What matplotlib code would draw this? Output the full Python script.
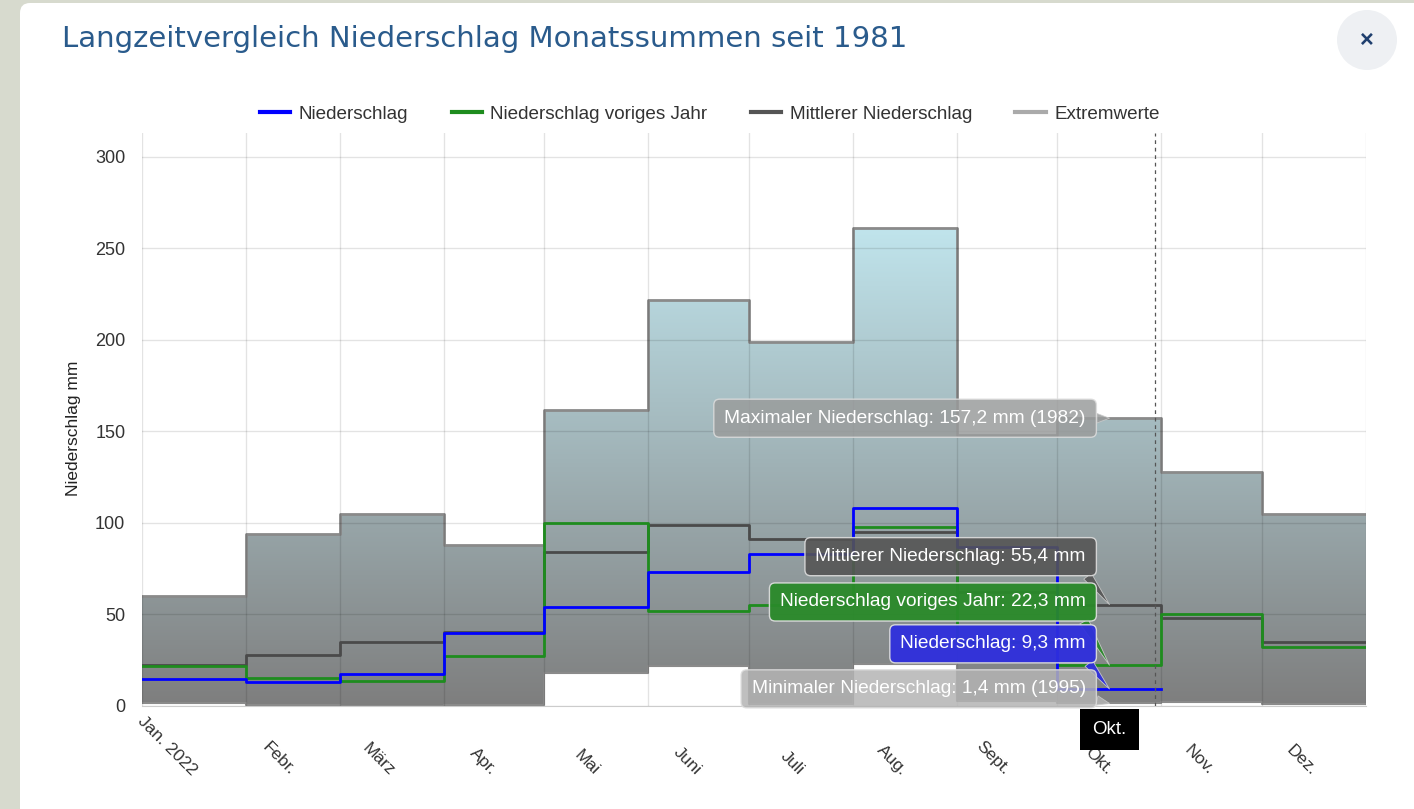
import numpy as np
import pandas as pd
import matplotlib
matplotlib.use('Agg')
import matplotlib.pyplot as plt
import matplotlib.dates as mdates
from matplotlib.patches import FancyBboxPatch, Ellipse
from matplotlib.colors import LinearSegmentedColormap

plt.rcParams['font.family'] = ['Liberation Sans', 'DejaVu Sans']

monate = ['Jan. 2022', 'Febr.', 'März', 'Apr.', 'Mai', 'Juni', 'Juli', 'Aug.',
          'Sept.', 'Okt.', 'Nov.', 'Dez.']
niederschlag = [15, 13, 17.5, 40, 54, 73, 83, 108, 87, 9.3]
voriges_jahr = [22, 15.5, 13.5, 27.5, 100, 52, 55, 98, 35, 22.3, 50, 32]
mittel = [22.5, 28, 34.7, 40.5, 84, 99, 91, 95, 62, 55.4, 48, 34.7]
maximum = [60, 94, 105, 88, 161.5, 222, 199, 261, 148, 157.2, 128, 105]
minimum = [1.5, 0.5, 0.2, 0.3, 18, 22, 1, 23, 3, 1.4, 2, 1]
heute = '2022-10-30'

grenzen = pd.date_range('2022-01-01', periods=13, freq='MS')
x = mdates.date2num(grenzen)
mitten = (x[:-1] + x[1:]) / 2


def stufen(werte):
    n = len(werte)
    return x[:n + 1], list(werte) + [werte[-1]]


fig = plt.figure(figsize=(14.14, 8.09), dpi=100, facecolor='#d7dace')
fig.patches.append(FancyBboxPatch((20, -30), 1500, 806 + 30, boxstyle='round,pad=0,rounding_size=10',
                                  transform=None, fc='white', ec='none', zorder=-10))
fig.patches.append(Ellipse((1367 / 1414, 1 - 40 / 809), 60 / 1414, 60 / 809, transform=fig.transFigure,
                           fc='#eef0f3', ec='none', zorder=-5))
fig.text(1367 / 1414, 1 - 40 / 809, '×', ha='center', va='center', fontsize=17,
         fontweight='bold', color='#1f3f6e')
fig.text(62 / 1414, 1 - 39 / 809, 'Langzeitvergleich Niederschlag Monatssummen seit 1981',
         fontsize=21, color='#2a5b8c', va='center', family=['DejaVu Sans'])

ax = fig.add_axes([142 / 1414, 1 - 706 / 809, 1224 / 1414, 573 / 809])
ax.set_facecolor('none')

# Extremwerte als Flaeche mit Farbverlauf
xs, lo = stufen(minimum)
_, hi = stufen(maximum)
flaeche = ax.fill_between(xs, lo, hi, step='post', fc='none', ec='none')
cmap = LinearSegmentedColormap.from_list('verlauf', ['#7e7e7e', '#c1e6ee'])
bild = ax.imshow(np.linspace(0, 1, 256).reshape(-1, 1), extent=[x[0], x[-1], 0, 265],
                 origin='lower', aspect='auto', cmap=cmap, zorder=1)
bild.set_clip_path(flaeche.get_paths()[0], transform=ax.transData)
ax.step(xs, hi, where='post', color='#8a8a8a', lw=2, zorder=2)
ax.step(xs, lo, where='post', color='#8a8a8a', lw=1.5, zorder=2)

xs, ys = stufen(mittel)
ax.step(xs, ys, where='post', color='#4a4a4a', lw=2, zorder=3)
xs, ys = stufen(voriges_jahr)
ax.step(xs, ys, where='post', color='#1e8c1e', lw=2, zorder=4)
xs, ys = stufen(niederschlag)
ax.step(xs, ys, where='post', color='#0000ff', lw=2, zorder=5)

ax.axvline(mdates.datestr2num(heute), color='#555555', lw=0.9, ls=(0, (3, 3)), zorder=6)

ax.set_xlim(x[0], x[-1])
ax.set_ylim(0, 313)
ax.set_yticks(range(0, 301, 50))
ax.set_xticks(x)
ax.set_xticklabels([])
ax.set_xticks(mitten, minor=True)
ax.set_xticklabels(monate, minor=True, rotation=-45, ha='right', va='center', rotation_mode='anchor')
ax.tick_params(which='both', length=0, labelsize=13, labelcolor='#333333')
ax.tick_params(axis='x', which='minor', pad=48, labelsize=12.5)
ax.tick_params(axis='y', pad=12)
ax.grid(True, color='black', alpha=0.11, lw=1)
ax.set_axisbelow(False)
for s in ['top', 'right', 'left']:
    ax.spines[s].set_visible(False)
ax.spines['bottom'].set_color('#cccccc')
ax.set_ylabel('Niederschlag mm', fontsize=12.5, color='#222222')
ax.yaxis.set_label_coords(-0.05, 0.485)

# Legende
handles = [plt.Line2D([], [], color=c, lw=3) for c in ['#0000ff', '#1e8c1e', '#555555', '#aaaaaa']]
fig.legend(handles, ['Niederschlag', 'Niederschlag voriges Jahr', 'Mittlerer Niederschlag', 'Extremwerte'],
           loc='center', bbox_to_anchor=(0.502, 1 - 114 / 809), ncol=4, frameon=False,
           fontsize=13.6, handlelength=1.6, handletextpad=0.45, columnspacing=2.3, labelcolor='#333333')

# Tooltips fuer Oktober
ok = mitten[9]
tips = [
    ('Maximaler Niederschlag: 157,2 mm (1982)', maximum[9], 0, '#9a9c9c', 0.85, (1, 0.5)),
    ('Mittlerer Niederschlag: 55,4 mm', mittel[9], 34.5, '#555555', 0.9, (0.97, 0.1)),
    ('Niederschlag voriges Jahr: 22,3 mm', voriges_jahr[9], 45.5, '#2a8a2a', 0.95, (0.97, 0.1)),
    ('Niederschlag: 9,3 mm', niederschlag[9], 32.5, '#2f2fdd', 0.95, (0.96, 0.1)),
    ('Minimaler Niederschlag: 1,4 mm (1995)', minimum[9], 10.5, '#b4b4b4', 0.85, (0.97, 0.1)),
]
for text, wert, dy, farbe, alpha, rp in tips:
    ax.annotate(text, xy=(ok, wert), xytext=(-17, dy), textcoords='offset points',
                ha='right', va='center', color='white', fontsize=13.8, zorder=10,
                bbox=dict(boxstyle='round,pad=0.55,rounding_size=0.3', fc=farbe, ec='#dddddd',
                          lw=1, alpha=alpha),
                arrowprops=dict(arrowstyle='wedge,tail_width=0.5', fc=farbe, ec='#cccccc', lw=0.6,
                                alpha=alpha, relpos=rp, shrinkA=0, shrinkB=0))
ax.annotate('Okt.', xy=(ok, 0), xytext=(0, -17), textcoords='offset points', ha='center', va='center',
            color='white', fontsize=13.5, zorder=10, annotation_clip=False,
            bbox=dict(boxstyle='square,pad=0.65', fc='black', ec='none'))

fig.savefig('out.png', dpi=100, facecolor=fig.get_facecolor())
